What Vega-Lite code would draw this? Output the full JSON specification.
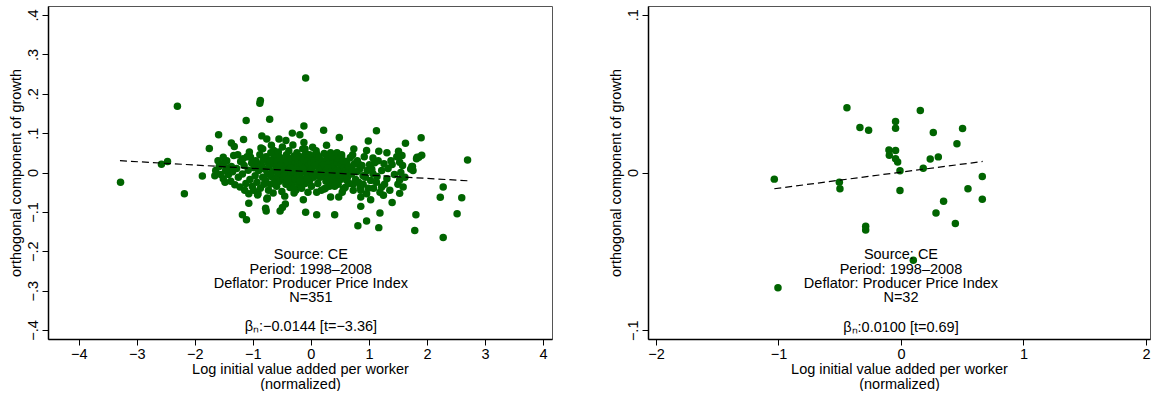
{
"$schema": "https://vega.github.io/schema/vega-lite/v6.json",
"background": "white",
"padding": {"left": 7, "top": 5, "right": 0, "bottom": 0},
"bounds": "flush",
"spacing": 96,
"config": {
  "font": "Liberation Sans",
  "view": {"stroke": "#555555", "strokeWidth": 1},
  "axis": {"grid": false, "labelFontSize": 14.5, "titleFontSize": 14.5, "titleFontWeight": "normal", "labelColor": "black", "titleColor": "black", "tickColor": "black", "domainColor": "black", "domainWidth": 1.5, "tickSize": 6, "labelPadding": 2, "titlePadding": 2, "labelFlush": false, "labelOverlap": false, "titleLineHeight": 14.5}
},
"datasets": {
"left": [
{"x":-3.28,"y":-0.025},{"x":-2.575,"y":0.021},{"x":-2.47,"y":0.028},{"x":-2.30,"y":0.168},{"x":-2.18,"y":-0.054},{"x":-1.87,"y":-0.009},{"x":-1.75,"y":0.061},{"x":-1.59,"y":0.096},{"x":-0.09,"y":0.240},{"x":-0.87,"y":0.183},
{"x":-0.88,"y":0.176},{"x":-1.115,"y":0.132},{"x":-0.71,"y":0.135},{"x":-0.12,"y":0.118},{"x":-1.16,"y":0.084},{"x":-1.37,"y":0.075},{"x":-1.32,"y":0.066},{"x":-0.845,"y":0.093},{"x":-0.76,"y":0.085},{"x":-0.32,"y":0.100},
{"x":-0.19,"y":0.096},{"x":-0.55,"y":0.085},{"x":-0.43,"y":0.081},{"x":-0.12,"y":0.076},{"x":-0.83,"y":0.060},{"x":0.03,"y":0.064},{"x":-0.68,"y":0.069},{"x":-0.64,"y":0.056},{"x":-1.07,"y":-0.078},{"x":-1.18,"y":-0.107},
{"x":-1.11,"y":-0.120},{"x":-0.78,"y":-0.091},{"x":-0.77,"y":-0.098},{"x":-0.53,"y":-0.098},{"x":-0.49,"y":-0.089},{"x":-0.44,"y":-0.080},{"x":-0.09,"y":-0.101},{"x":0.10,"y":-0.107},{"x":-0.13,"y":-0.069},{"x":-0.75,"y":-0.065},
{"x":-0.92,"y":-0.057},{"x":-0.29,"y":-0.052},{"x":0.22,"y":0.107},{"x":1.13,"y":0.106},{"x":0.49,"y":0.089},{"x":0.99,"y":0.080},{"x":1.63,"y":0.0745},{"x":0.27,"y":0.069},{"x":0.74,"y":0.060},{"x":1.90,"y":0.088},
{"x":0.41,"y":-0.107},{"x":0.86,"y":-0.086},{"x":1.19,"y":-0.103},{"x":1.40,"y":-0.076},{"x":0.81,"y":-0.135},{"x":0.96,"y":-0.123},{"x":1.17,"y":-0.140},{"x":1.81,"y":-0.107},{"x":1.79,"y":-0.147},{"x":0.34,"y":-0.062},
{"x":0.23,"y":-0.042},{"x":0.48,"y":-0.062},{"x":1.53,"y":-0.053},{"x":0.86,"y":-0.062},{"x":1.03,"y":-0.069},{"x":1.25,"y":-0.058},{"x":0.96,"y":0.056},{"x":1.17,"y":0.054},{"x":1.31,"y":0.050},{"x":1.51,"y":0.054},
{"x":1.57,"y":0.043},{"x":1.38,"y":0.030},{"x":1.53,"y":0.026},{"x":1.74,"y":0.015},{"x":1.83,"y":0.039},{"x":1.07,"y":0.037},{"x":1.26,"y":0.022},{"x":0.72,"y":0.045},{"x":0.82,"y":0.022},{"x":0.53,"y":0.039},
{"x":0.33,"y":0.039},{"x":0.10,"y":0.047},{"x":1.53,"y":-0.019},{"x":1.59,"y":-0.037},{"x":1.62,"y":-0.012},{"x":1.22,"y":-0.037},{"x":1.13,"y":-0.025},{"x":0.96,"y":-0.054},{"x":0.85,"y":-0.037},{"x":0.73,"y":-0.029},
{"x":0.56,"y":-0.042},{"x":0.62,"y":-0.020},{"x":0.33,"y":-0.025},{"x":0.16,"y":-0.012},{"x":0.90,"y":-0.008},{"x":1.31,"y":-0.016},{"x":1.07,"y":-0.003},{"x":1.91,"y":0.044},{"x":1.86,"y":0.039},{"x":1.82,"y":0.035},
{"x":1.75,"y":0.015},{"x":1.76,"y":0.005},{"x":1.72,"y":0.009},{"x":2.70,"y":0.032},{"x":2.28,"y":-0.037},{"x":2.23,"y":-0.063},{"x":2.60,"y":-0.064},{"x":2.52,"y":-0.105},{"x":2.28,"y":-0.165},{"x":-1.655,"y":-0.008},
{"x":-1.51,"y":0.039},{"x":-1.52,"y":0.022},{"x":-1.51,"y":-0.016},{"x":-1.64,"y":0.005},{"x":-1.31,"y":-0.031},{"x":-1.22,"y":-0.037},{"x":-1.07,"y":-0.054},{"x":-1.45,"y":0.030},{"x":-1.37,"y":0.015},{"x":-1.17,"y":0.035},
{"x":-1.04,"y":0.039},{"x":-0.91,"y":0.022},{"x":-0.91,"y":-0.054},{"x":-0.76,"y":-0.067},{"x":-1.33,"y":0.043},
{"x":-1.42,"y":-0.005},{"x":-1.38,"y":-0.022},{"x":-1.28,"y":0.010},{"x":-1.25,"y":-0.012},{"x":-1.21,"y":0.028},{"x":-1.45,"y":0.012},{"x":-1.35,"y":0.002},{"x":-1.26,"y":0.045},
{"x":-1.18,"y":-0.004},{"x":-1.15,"y":0.018},{"x":-1.12,"y":-0.028},{"x":-1.10,"y":0.040},{"x":-1.08,"y":0.006},{"x":-1.05,"y":-0.018},{"x":-1.02,"y":0.024},{"x":-1.14,"y":-0.045},{"x":-1.01,"y":-0.035},{"x":-1.06,"y":0.052},
{"x":-0.98,"y":0.012},{"x":-0.96,"y":-0.008},{"x":-0.95,"y":0.030},{"x":-0.93,"y":-0.025},{"x":-0.90,"y":0.005},{"x":-0.88,"y":0.045},{"x":-0.87,"y":-0.040},{"x":-0.85,"y":0.018},{"x":-0.83,"y":-0.012},{"x":-0.82,"y":0.032},{"x":-0.81,"y":-0.030},{"x":-0.99,"y":-0.045},{"x":-0.86,"y":0.062},
{"x":-0.79,"y":0.008},{"x":-0.78,"y":-0.020},{"x":-0.77,"y":0.040},{"x":-0.75,"y":-0.004},{"x":-0.74,"y":0.025},{"x":-0.73,"y":-0.045},{"x":-0.72,"y":0.015},{"x":-0.70,"y":-0.030},{"x":-0.69,"y":0.050},{"x":-0.68,"y":-0.010},{"x":-0.67,"y":0.002},{"x":-0.66,"y":0.033},{"x":-0.65,"y":-0.052},{"x":-0.63,"y":0.020},{"x":-0.62,"y":-0.018},{"x":-0.61,"y":0.045},
{"x":-0.60,"y":0.006},{"x":-0.59,"y":-0.035},{"x":-0.58,"y":0.028},{"x":-0.57,"y":-0.008},{"x":-0.56,"y":0.052},{"x":-0.55,"y":0.012},{"x":-0.54,"y":-0.022},{"x":-0.53,"y":0.038},{"x":-0.52,"y":-0.003},{"x":-0.51,"y":0.020},{"x":-0.50,"y":-0.048},{"x":-0.49,"y":0.065},{"x":-0.48,"y":0.003},{"x":-0.47,"y":-0.015},{"x":-0.46,"y":0.030},{"x":-0.45,"y":-0.060},{"x":-0.44,"y":0.017},{"x":-0.43,"y":-0.030},{"x":-0.42,"y":0.045},{"x":-0.41,"y":0.000},
{"x":-0.40,"y":0.025},{"x":-0.39,"y":-0.012},{"x":-0.38,"y":0.055},{"x":-0.37,"y":0.008},{"x":-0.36,"y":-0.038},{"x":-0.35,"y":0.035},{"x":-0.34,"y":-0.004},{"x":-0.33,"y":0.018},{"x":-0.32,"y":-0.025},{"x":-0.31,"y":0.070},{"x":-0.30,"y":0.002},{"x":-0.29,"y":0.042},{"x":-0.28,"y":-0.016},{"x":-0.27,"y":0.026},{"x":-0.26,"y":-0.045},{"x":-0.25,"y":0.010},{"x":-0.24,"y":0.050},{"x":-0.23,"y":-0.006},{"x":-0.22,"y":0.030},{"x":-0.21,"y":-0.030},
{"x":-0.20,"y":0.014},{"x":-0.19,"y":-0.010},{"x":-0.18,"y":0.040},{"x":-0.17,"y":0.000},{"x":-0.16,"y":-0.040},{"x":-0.15,"y":0.022},{"x":-0.14,"y":0.060},{"x":-0.13,"y":-0.018},{"x":-0.12,"y":0.033},{"x":-0.11,"y":0.004},{"x":-0.10,"y":-0.028},{"x":-0.09,"y":0.048},{"x":-0.08,"y":0.012},{"x":-0.07,"y":-0.008},{"x":-0.06,"y":0.028},{"x":-0.05,"y":-0.050},{"x":-0.04,"y":0.018},{"x":-0.03,"y":0.038},{"x":-0.02,"y":-0.020},{"x":-0.01,"y":0.006},
{"x":0.00,"y":0.024},{"x":0.01,"y":-0.035},{"x":0.02,"y":0.010},{"x":0.04,"y":0.042},{"x":0.05,"y":-0.012},{"x":0.06,"y":0.030},{"x":0.08,"y":-0.002},{"x":0.09,"y":0.055},{"x":0.11,"y":0.016},{"x":0.12,"y":-0.028},{"x":0.13,"y":0.035},{"x":0.15,"y":0.004},{"x":0.16,"y":0.022},{"x":0.18,"y":-0.045},{"x":0.19,"y":0.012},
{"x":0.20,"y":0.030},{"x":0.21,"y":-0.005},{"x":0.23,"y":0.048},{"x":0.24,"y":0.016},{"x":0.26,"y":-0.022},{"x":0.27,"y":0.006},{"x":0.28,"y":0.036},{"x":0.30,"y":-0.012},{"x":0.31,"y":0.022},{"x":0.32,"y":-0.035},{"x":0.34,"y":0.050},{"x":0.35,"y":0.010},{"x":0.37,"y":-0.002},{"x":0.38,"y":0.028},{"x":0.39,"y":-0.020},
{"x":0.40,"y":0.015},{"x":0.42,"y":0.040},{"x":0.43,"y":-0.010},{"x":0.44,"y":0.003},{"x":0.46,"y":0.025},{"x":0.47,"y":-0.030},{"x":0.48,"y":0.035},{"x":0.50,"y":0.008},{"x":0.51,"y":-0.018},{"x":0.52,"y":0.020},{"x":0.54,"y":-0.050},{"x":0.55,"y":0.030},{"x":0.57,"y":-0.005},{"x":0.58,"y":0.012},{"x":0.59,"y":-0.038},
{"x":0.60,"y":0.004},{"x":0.62,"y":0.028},{"x":0.63,"y":-0.012},{"x":0.65,"y":0.015},{"x":0.66,"y":-0.028},{"x":0.68,"y":0.038},{"x":0.70,"y":-0.004},{"x":0.71,"y":0.010},{"x":0.73,"y":-0.045},{"x":0.75,"y":0.022},{"x":0.77,"y":-0.018},{"x":0.79,"y":0.002},
{"x":0.80,"y":0.030},{"x":0.82,"y":-0.025},{"x":0.84,"y":0.008},{"x":0.86,"y":-0.045},{"x":0.88,"y":0.018},{"x":0.90,"y":-0.030},{"x":0.92,"y":0.040},{"x":0.94,"y":-0.012},{"x":0.97,"y":0.005},{"x":0.99,"y":-0.040},
{"x":1.01,"y":0.020},{"x":1.03,"y":-0.020},{"x":1.05,"y":0.008},{"x":1.08,"y":-0.040},{"x":1.10,"y":0.025},{"x":1.14,"y":-0.010},{"x":1.16,"y":0.030},{"x":1.19,"y":-0.050},{"x":1.22,"y":0.005},{"x":1.27,"y":-0.030},
{"x":1.33,"y":0.010},{"x":1.36,"y":-0.045},{"x":1.40,"y":0.020},{"x":1.44,"y":-0.005},{"x":1.48,"y":0.040},{"x":1.50,"y":-0.030},{"x":1.55,"y":0.000},{"x":1.58,"y":0.018},
{"x":-1.58,"y":0.015},{"x":-1.55,"y":-0.005},{"x":-1.48,"y":-0.025},{"x":-1.60,"y":0.030},{"x":-1.47,"y":0.005},
{"x":-0.58,"y":0.003},{"x":-0.52,"y":0.015},{"x":-0.46,"y":-0.008},{"x":-0.40,"y":-0.018},{"x":-0.35,"y":0.012},{"x":-0.30,"y":-0.040},{"x":-0.26,"y":0.038},{"x":-0.22,"y":0.005},{"x":-0.18,"y":-0.022},{"x":-0.14,"y":0.010},{"x":-0.10,"y":0.060},{"x":-0.06,"y":-0.015},{"x":-0.02,"y":0.045},{"x":0.03,"y":-0.005},{"x":0.07,"y":0.018},{"x":0.10,"y":-0.050},{"x":0.14,"y":0.040},{"x":0.17,"y":-0.010},{"x":0.22,"y":0.020},{"x":0.25,"y":-0.040},{"x":0.29,"y":0.012},{"x":0.33,"y":0.000},{"x":0.36,"y":0.040},{"x":0.41,"y":-0.035},{"x":0.45,"y":0.050},{"x":0.49,"y":-0.008},{"x":0.53,"y":0.045},{"x":-0.64,"y":-0.028},{"x":-0.70,"y":0.030}
],
"right": [
{"x":-1.034,"y":-0.0042},{"x":-1.004,"y":-0.0731},{"x":-0.503,"y":-0.0061},{"x":-0.498,"y":-0.0103},{"x":-0.441,"y":0.0410},{"x":-0.335,"y":0.0285},{"x":-0.264,"y":0.0268},{"x":-0.288,"y":-0.0340},{"x":-0.288,"y":-0.0364},{"x":-0.044,"y":0.0323},
{"x":-0.044,"y":0.0281},{"x":-0.098,"y":0.0142},{"x":-0.095,"y":0.0110},{"x":-0.044,"y":0.0140},{"x":-0.044,"y":0.0087},{"x":-0.027,"y":0.0066},{"x":-0.008,"y":0.0011},{"x":-0.008,"y":-0.0114},{"x":0.158,"y":0.0393},{"x":0.182,"y":0.0027},
{"x":0.239,"y":0.0085},{"x":0.264,"y":0.0254},{"x":0.305,"y":0.0099},{"x":0.286,"y":-0.0256},{"x":0.348,"y":-0.0182},{"x":0.101,"y":-0.0556},{"x":0.444,"y":-0.0323},{"x":0.457,"y":0.0182},{"x":0.503,"y":0.0279},{"x":0.547,"y":-0.0103},
{"x":0.664,"y":-0.0025},{"x":0.664,"y":-0.0169}
],
"leftFit": [{"x":-3.29,"y":0.030},{"x":2.70,"y":-0.021}],
"rightFit": [{"x":-1.034,"y":-0.0103},{"x":0.667,"y":0.0070}],
"leftNote": [{"t":"Source: CE\nPeriod: 1998–2008\nDeflator: Producer Price Index\nN=351"}],
"rightNote": [{"t":"Source: CE\nPeriod: 1998–2008\nDeflator: Producer Price Index\nN=32"}],
"leftBeta": [{"t":"βₙ:−0.0144 [t=−3.36]"}],
"rightBeta": [{"t":"βₙ:0.0100 [t=0.69]"}]
},
"hconcat": [
{
 "width": 504, "height": 333,
 "layer": [
  {"data": {"name": "left"}, "mark": {"type": "circle", "color": "#006400", "size": 56, "opacity": 1},
   "encoding": {
    "x": {"field": "x", "type": "quantitative", "scale": {"domain": [-4.53, 4.155], "nice": false, "zero": false},
          "axis": {"values": [-4,-3,-2,-1,0,1,2,3,4], "labelExpr": "(datum.value < 0 ? '−' : '') + abs(datum.value)", "title": ["Log initial value added per worker", "(normalized)"]}},
    "y": {"field": "y", "type": "quantitative", "scale": {"domain": [-0.4228, 0.4228], "nice": false, "zero": false},
          "axis": {"values": [-0.4,-0.3,-0.2,-0.1,0,0.1,0.2,0.3,0.4], "labelExpr": "datum.value == 0 ? '0' : (datum.value < 0 ? '−' : '') + '.' + format(abs(datum.value)*10, '.0f')", "labelAngle": 270, "labelAlign": "center", "labelBaseline": "bottom", "title": "orthogonal component of growth"}}
   }},
  {"data": {"name": "leftFit"}, "mark": {"type": "line", "color": "black", "strokeWidth": 1.2, "strokeDash": [7, 4]},
   "encoding": {"x": {"field": "x", "type": "quantitative"}, "y": {"field": "y", "type": "quantitative"}}},
  {"data": {"name": "leftNote"}, "mark": {"type": "text", "fontSize": 14.5, "lineHeight": 14.4, "lineBreak": "\n", "baseline": "top", "align": "center", "color": "black"},
   "encoding": {"x": {"datum": 0, "type": "quantitative"}, "y": {"datum": -0.192, "type": "quantitative"}, "text": {"field": "t", "type": "nominal"}}},
  {"data": {"name": "leftBeta"}, "mark": {"type": "text", "fontSize": 14.5, "baseline": "top", "align": "center", "color": "black"},
   "encoding": {"x": {"datum": 0, "type": "quantitative"}, "y": {"datum": -0.3754, "type": "quantitative"}, "text": {"field": "t", "type": "nominal"}}}
 ]
},
{
 "width": 502, "height": 333,
 "layer": [
  {"data": {"name": "right"}, "mark": {"type": "circle", "color": "#006400", "size": 56, "opacity": 1},
   "encoding": {
    "x": {"field": "x", "type": "quantitative", "scale": {"domain": [-2.065, 2.033], "nice": false, "zero": false},
          "axis": {"values": [-2,-1,0,1,2], "labelExpr": "(datum.value < 0 ? '−' : '') + abs(datum.value)", "title": ["Log initial value added per worker", "(normalized)"]}},
    "y": {"field": "y", "type": "quantitative", "scale": {"domain": [-0.1055, 0.1055], "nice": false, "zero": false},
          "axis": {"values": [-0.1, 0, 0.1], "labelExpr": "datum.value == 0 ? '0' : (datum.value < 0 ? '−' : '') + '.' + format(abs(datum.value)*10, '.0f')", "labelAngle": 270, "labelAlign": "center", "labelBaseline": "bottom", "title": "orthogonal component of growth"}}
   }},
  {"data": {"name": "rightFit"}, "mark": {"type": "line", "color": "black", "strokeWidth": 1.2, "strokeDash": [7, 4]},
   "encoding": {"x": {"field": "x", "type": "quantitative"}, "y": {"field": "y", "type": "quantitative"}}},
  {"data": {"name": "rightNote"}, "mark": {"type": "text", "fontSize": 14.5, "lineHeight": 14.4, "lineBreak": "\n", "baseline": "top", "align": "center", "color": "black"},
   "encoding": {"x": {"datum": 0, "type": "quantitative"}, "y": {"datum": -0.048, "type": "quantitative"}, "text": {"field": "t", "type": "nominal"}}},
  {"data": {"name": "rightBeta"}, "mark": {"type": "text", "fontSize": 14.5, "baseline": "top", "align": "center", "color": "black"},
   "encoding": {"x": {"datum": 0, "type": "quantitative"}, "y": {"datum": -0.0938, "type": "quantitative"}, "text": {"field": "t", "type": "nominal"}}}
 ]
}
]
}
